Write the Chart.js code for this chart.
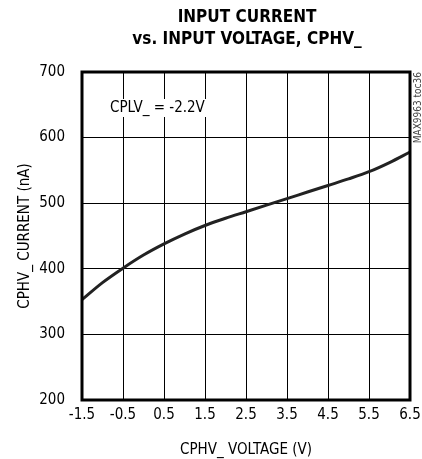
<!DOCTYPE html>
<html>
<head>
<meta charset="utf-8">
<script src="https://cdn.jsdelivr.net/npm/chart.js@4"></script>
<style>
  html, body { margin: 0; padding: 0; background: #fff; }
  #wrap { width: 422px; height: 459px; position: relative; }
</style>
</head>
<body>
<div id="wrap"><canvas id="chart" width="422" height="459"></canvas></div>
<script>
// 데이터
const voltage = [-1.5, -1, -0.5, 0, 0.5, 1, 1.5, 2, 2.5, 3, 3.5, 4, 4.5, 5, 5.5, 6, 6.5];
const current = [353, 379, 401, 421, 438, 453, 466, 477, 487, 497, 507, 517, 527, 537, 548, 562, 578];
const xTicks = [-1.5, -0.5, 0.5, 1.5, 2.5, 3.5, 4.5, 5.5, 6.5];
const yTicks = [200, 300, 400, 500, 600, 700];
const titleLines = ['INPUT CURRENT', 'vs. INPUT VOLTAGE, CPHV_'];
const noteText = 'CPLV_ = -2.2V';
const sideText = 'MAX9963 toc36';

const FONT = '"DejaVu Sans Condensed", "Liberation Sans Narrow", sans-serif';

// 제목, 주석, 테두리 그리기
const decorPlugin = {
  id: 'decor',
  afterDraw(chart) {
    const { ctx, chartArea: a } = chart;
    ctx.save();
    // 제목
    ctx.fillStyle = '#000';
    ctx.textAlign = 'center';
    ctx.textBaseline = 'middle';
    ctx.font = 'bold 17px ' + FONT;
    const cx = (a.left + a.right) / 2 + 1;
    ctx.fillText(titleLines[0], cx, 18);
    ctx.fillText(titleLines[1], cx, 40);

    // 주석 (흰 배경)
    ctx.font = '15px ' + FONT;
    const w = ctx.measureText(noteText).width;
    const nx = 110, ny = 108;
    ctx.fillStyle = '#fff';
    ctx.fillRect(nx - 2, ny - 9, w + 4, 18);
    ctx.fillStyle = '#000';
    ctx.textAlign = 'left';
    ctx.fillText(noteText, nx, ny);

    // 플롯 테두리
    ctx.strokeStyle = '#000';
    ctx.lineWidth = 3;
    ctx.strokeRect(a.left, a.top, a.right - a.left, a.bottom - a.top);

    // 측면 텍스트
    ctx.translate(418, 72);
    ctx.rotate(-Math.PI / 2);
    ctx.font = '10px ' + FONT;
    ctx.fillStyle = '#444';
    ctx.textAlign = 'right';
    ctx.textBaseline = 'middle';
    ctx.fillText(sideText, 0, 0);
    ctx.restore();
  }
};

new Chart(document.getElementById('chart'), {
  type: 'line',
  data: {
    datasets: [{
      data: voltage.map((v, i) => ({ x: v, y: current[i] })),
      borderColor: '#222',
      borderWidth: 3,
      pointRadius: 0,
      cubicInterpolationMode: 'monotone',
      fill: false
    }]
  },
  options: {
    responsive: false,
    animation: false,
    layout: { padding: { left: 0, right: 12, top: 72, bottom: 0 } },
    plugins: {
      legend: { display: false },
      tooltip: { enabled: false }
    },
    scales: {
      x: {
        type: 'linear',
        min: -1.5,
        max: 6.5,
        afterFit(scale) {
          scale.height = 59;
          scale.paddingLeft = 0;
          scale.paddingRight = 0;
        },
        afterBuildTicks(scale) { scale.ticks = xTicks.map(v => ({ value: v })); },
        grid: { color: '#000', lineWidth: 1, drawTicks: false },
        border: { display: false },
        ticks: {
          padding: 6,
          color: '#000',
          font: { family: FONT, size: 15 },
          callback: v => v.toFixed(1)
        },
        title: {
          display: true,
          text: 'CPHV_ VOLTAGE (V)',
          color: '#000',
          font: { family: FONT, size: 15 },
          padding: { top: 7, bottom: 0 }
        }
      },
      y: {
        min: 200,
        max: 700,
        afterFit(scale) {
          scale.width = 82;
          scale.paddingTop = 0;
          scale.paddingBottom = 0;
        },
        afterBuildTicks(scale) { scale.ticks = yTicks.map(v => ({ value: v })); },
        grid: { color: '#000', lineWidth: 1, drawTicks: false },
        border: { display: false },
        ticks: {
          padding: 17,
          color: '#000',
          font: { family: FONT, size: 15 },
          callback: v => String(v)
        },
        title: {
          display: true,
          text: 'CPHV_ CURRENT (nA)',
          color: '#000',
          font: { family: FONT, size: 15 },
          padding: { top: 16, bottom: 0 }
        }
      }
    }
  },
  plugins: [decorPlugin]
});
</script>
</body>
</html>
